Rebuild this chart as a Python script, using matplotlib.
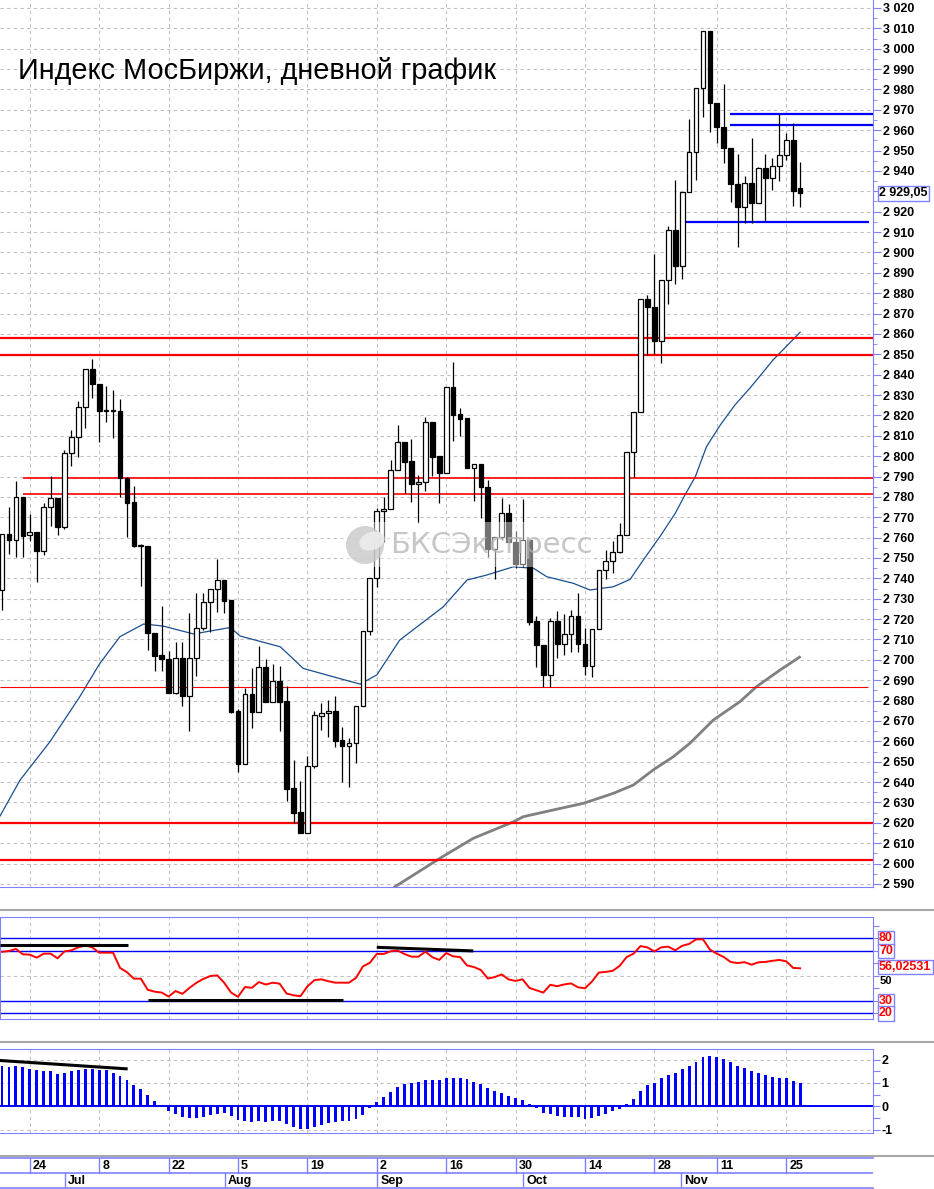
import numpy as np
import matplotlib.pyplot as plt
from matplotlib.patches import Rectangle, Circle, Ellipse
from matplotlib.lines import Line2D
from matplotlib.ticker import MultipleLocator, FuncFormatter
from matplotlib.transforms import blended_transform_factory

plt.rcParams['font.family'] = ['Liberation Sans', 'DejaVu Sans']

W, H = 934, 1189
axis_blue = '#8080ff'
grid_gray = '#c0c0c0'
lab_size = 9
lab_weight = 'bold'

# daily candles, 18 Jun .. 27 Nov
opens = [2734.3, 2761.6, 2758.7, 2779.8, 2761.3, 2762.6, 2753.6, 2774.9, 2779.3, 2765.4,
         2801.4, 2809.5, 2824.0, 2842.6, 2835.2, 2822.3, 2822.3, 2822.3, 2789.3, 2777.3,
         2756.0, 2756.0, 2713.3, 2702.4, 2700.4, 2683.9, 2700.9, 2682.4, 2700.7, 2715.5,
         2728.2, 2734.6, 2739.2, 2729.4, 2674.9, 2648.7, 2683.1, 2674.6, 2696.3, 2679.5,
         2689.6, 2679.8, 2637.0, 2625.3, 2614.9, 2647.9, 2672.6, 2673.8, 2674.9, 2660.7,
         2657.9, 2659.0, 2677.4, 2714.1, 2740.0, 2772.9, 2773.9, 2793.2, 2806.8, 2797.6,
         2786.1, 2787.1, 2816.6, 2800.0, 2791.5, 2834.1, 2820.7, 2818.5, 2794.3, 2796.0,
         2785.0, 2754.2, 2760.1, 2772.2, 2758.0, 2747.0, 2758.8, 2719.1, 2707.3, 2692.5,
         2719.1, 2707.6, 2712.5, 2721.5, 2707.8, 2697.1, 2715.0, 2744.1, 2748.7, 2752.8,
         2761.1, 2801.9, 2821.5, 2877.0, 2873.1, 2856.7, 2886.4, 2911.0, 2893.5, 2929.8,
         2949.1, 2980.5, 3008.7, 2973.2, 2961.7, 2951.2, 2933.4, 2922.1, 2934.2, 2924.1,
         2941.3, 2936.3, 2942.4, 2947.8, 2955.2, 2931.4]
highs = [2761.6, 2775.2, 2787.8, 2780.0, 2771.6, 2763.0, 2777.1, 2790.2, 2779.3, 2803.0,
         2812.8, 2827.0, 2842.6, 2847.7, 2835.2, 2834.4, 2832.5, 2828.0, 2789.6, 2785.5,
         2756.7, 2756.0, 2713.3, 2726.4, 2704.4, 2708.6, 2708.6, 2723.2, 2732.6, 2732.6,
         2734.6, 2749.5, 2739.2, 2729.4, 2675.9, 2686.4, 2695.9, 2706.8, 2700.3, 2698.0,
         2697.2, 2687.2, 2650.9, 2640.5, 2652.8, 2675.0, 2678.7, 2680.3, 2682.3, 2667.2,
         2661.8, 2677.4, 2714.1, 2740.0, 2774.4, 2780.1, 2798.1, 2815.3, 2806.8, 2808.2,
         2790.7, 2819.4, 2816.6, 2800.0, 2834.1, 2846.0, 2823.5, 2818.5, 2796.0, 2796.0,
         2788.3, 2760.5, 2779.4, 2776.5, 2763.4, 2778.8, 2758.8, 2721.5, 2707.3, 2720.4,
         2724.1, 2722.3, 2724.5, 2733.0, 2715.5, 2715.0, 2744.1, 2753.9, 2758.3, 2767.3,
         2801.9, 2821.5, 2877.0, 2879.1, 2899.0, 2886.4, 2913.0, 2935.5, 2929.8, 2965.3,
         2980.5, 3008.7, 3008.7, 2973.2, 2982.7, 2951.2, 2948.3, 2937.5, 2956.0, 2941.8,
         2948.3, 2946.2, 2967.8, 2958.8, 2963.4, 2944.5]
lows = [2724.5, 2751.8, 2750.5, 2750.5, 2758.5, 2738.4, 2751.5, 2765.9, 2761.4, 2764.0,
        2795.1, 2799.7, 2814.0, 2828.4, 2807.1, 2816.9, 2809.0, 2779.8, 2760.5, 2755.5,
        2736.4, 2704.8, 2694.7, 2694.7, 2683.6, 2683.2, 2677.4, 2665.3, 2692.0, 2714.6,
        2713.8, 2723.6, 2722.8, 2674.0, 2645.0, 2648.7, 2666.7, 2674.6, 2679.5, 2679.5,
        2665.3, 2630.9, 2620.1, 2614.9, 2614.9, 2647.0, 2665.6, 2662.3, 2657.1, 2640.2,
        2637.4, 2649.5, 2677.4, 2712.0, 2735.6, 2758.0, 2773.9, 2793.2, 2781.7, 2777.6,
        2767.3, 2783.0, 2790.2, 2777.1, 2791.5, 2807.6, 2809.9, 2794.3, 2778.1, 2769.8,
        2750.3, 2739.5, 2758.8, 2758.0, 2744.9, 2745.7, 2717.1, 2696.6, 2686.8, 2686.8,
        2700.7, 2702.4, 2704.0, 2704.0, 2692.5, 2691.4, 2715.0, 2739.5, 2742.5, 2752.3,
        2761.1, 2790.0, 2821.5, 2849.7, 2850.2, 2845.6, 2874.6, 2884.3, 2886.8, 2929.8,
        2935.5, 2966.3, 2958.9, 2953.5, 2944.0, 2924.6, 2902.8, 2914.6, 2914.3, 2924.1,
        2915.6, 2930.6, 2935.2, 2945.4, 2922.9, 2922.4]
closes = [2761.6, 2758.7, 2779.8, 2761.0, 2762.6, 2753.6, 2774.9, 2779.3, 2765.4, 2801.4,
          2809.5, 2824.0, 2842.6, 2835.2, 2822.3, 2822.3, 2822.3, 2789.3, 2777.1, 2756.0,
          2756.0, 2713.0, 2702.0, 2700.2, 2683.9, 2700.8, 2682.4, 2700.9, 2715.5, 2728.2,
          2734.6, 2739.2, 2729.0, 2674.6, 2648.7, 2683.1, 2674.6, 2696.3, 2679.5, 2689.6,
          2679.5, 2636.8, 2625.0, 2614.9, 2647.9, 2673.0, 2673.8, 2674.9, 2660.3, 2657.7,
          2659.0, 2677.4, 2714.1, 2740.0, 2773.0, 2774.0, 2793.2, 2806.8, 2797.3, 2786.1,
          2787.1, 2816.6, 2799.7, 2791.5, 2834.1, 2820.2, 2818.4, 2794.3, 2796.0, 2785.0,
          2754.2, 2760.1, 2772.2, 2758.0, 2747.0, 2758.8, 2718.7, 2707.1, 2692.5, 2719.1,
          2707.6, 2712.5, 2721.5, 2707.6, 2697.1, 2715.0, 2744.1, 2748.7, 2752.8, 2761.1,
          2801.9, 2821.5, 2877.0, 2873.1, 2856.7, 2886.4, 2911.0, 2893.5, 2929.8, 2949.1,
          2980.5, 3008.7, 2973.2, 2961.4, 2951.1, 2933.4, 2922.1, 2934.2, 2924.1, 2941.3,
          2936.3, 2942.4, 2947.8, 2955.2, 2930.3, 2929.05]

# moving averages (bar index, price)
ma_blue_x = [-0.3, 2.6, 6.9, 11.2, 14.1, 17.0, 20.4, 23.2, 27.6, 32.9, 34.3, 40.1, 43.4, 47.7,
             51.6, 54.0, 57.3, 63.6, 67.0, 69.8, 73.7, 76.6, 78.5, 82.3, 84.7, 88.1, 90.5,
             92.4, 94.8, 97.0, 98.4, 99.9, 101.5, 103.5, 105.6, 107.8, 111.1, 115.0]
ma_blue_y = [2623.3, 2641.0, 2659.8, 2681.9, 2698.3, 2711.4, 2717.6, 2716.6, 2712.7, 2715.9,
             2711.7, 2706.4, 2695.8, 2691.7, 2688.1, 2692.6, 2709.7, 2726.1, 2739.2, 2741.6,
             2745.7, 2744.9, 2740.8, 2737.6, 2734.3, 2735.9, 2739.5, 2749.0, 2760.5, 2771.9,
             2780.9, 2789.9, 2804.6, 2815.3, 2825.1, 2833.5, 2847.2, 2860.8]
ma_gray_x = [56.6, 63.1, 67.9, 73.7, 75.1, 79.4, 83.8, 88.1, 91.0, 93.8, 96.7, 99.1, 102.5,
             106.3, 108.7, 112.1, 114.9]
ma_gray_y = [2588.6, 2602.6, 2612.4, 2620.5, 2623.0, 2626.3, 2629.6, 2634.5, 2638.6, 2645.9,
             2652.4, 2659.0, 2670.5, 2679.4, 2686.8, 2695.0, 2701.3]

# horizontal levels
red_levels = [2858.0, 2849.7, 2789.3, 2781.2, 2686.5, 2620.0, 2601.7]
red_start = [-0.3, -0.3, 3.0, 3.0, -0.3, -0.3, -0.3]
red_end = [125.5, 125.5, 125.5, 125.5, 124.8, 125.5, 125.5]
red_width = [1.6, 1.6, 1.2, 1.2, 0.8, 1.6, 1.6]
blue_levels = [2968.1, 2962.7, 2915.1]
blue_start = [104.9, 104.9, 97.8]
blue_end = [125.5, 125.5, 124.9]

rsi = [69.2, 69.8, 71.5, 67.2, 66.9, 64.5, 67.7, 67.7, 64.0, 69.5,
       70.4, 72.8, 74.3, 72.7, 68.5, 68.5, 68.5, 56.3, 52.9, 47.7,
       47.7, 38.8, 37.3, 36.6, 33.4, 37.8, 35.6, 40.3, 44.4, 47.5,
       49.8, 50.4, 44.5, 36.6, 33.2, 41.0, 40.4, 45.0, 43.0, 44.5,
       43.7, 35.8, 34.4, 33.7, 41.5, 46.5, 47.2, 45.7, 44.5, 44.5,
       44.5, 48.3, 57.5, 60.4, 67.5, 67.5, 69.6, 70.2, 67.4, 65.3,
       65.3, 69.3, 64.9, 62.7, 68.2, 65.6, 65.0, 58.3, 57.0, 54.6,
       47.8, 49.0, 51.1, 47.1, 45.9, 47.2, 40.3, 38.4, 36.6, 42.8,
       41.7, 43.1, 43.9, 40.8, 40.0, 45.4, 52.6, 53.1, 54.0, 58.0,
       65.0, 67.7, 73.8, 72.7, 69.5, 72.8, 73.3, 70.4, 74.0, 75.5,
       79.1, 79.2, 71.0, 67.7, 65.0, 61.0, 60.2, 60.9, 58.9, 60.8,
       61.1, 62.0, 62.7, 61.6, 56.3, 56.0]

macd = [1.74, 1.70, 1.74, 1.70, 1.61, 1.54, 1.53, 1.49, 1.40, 1.44,
        1.50, 1.54, 1.59, 1.61, 1.57, 1.54, 1.44, 1.31, 1.14, 0.93,
        0.76, 0.50, 0.23, 0.04, -0.19, -0.33, -0.46, -0.50, -0.50, -0.46,
        -0.39, -0.33, -0.29, -0.41, -0.59, -0.63, -0.67, -0.63, -0.67, -0.63,
        -0.63, -0.76, -0.87, -0.97, -0.97, -0.87, -0.80, -0.71, -0.67, -0.63,
        -0.64, -0.54, -0.37, -0.09, 0.19, 0.41, 0.61, 0.84, 0.96, 1.01,
        1.06, 1.14, 1.14, 1.14, 1.23, 1.23, 1.23, 1.16,
        1.06, 0.96, 0.80, 0.67, 0.57, 0.46, 0.37, 0.27, 0.11, -0.09,
        -0.27, -0.33, -0.40, -0.46, -0.46, -0.46, -0.54, -0.50, -0.40, -0.33,
        -0.20, -0.11, 0.10, 0.33, 0.67, 0.89, 1.01, 1.19, 1.36, 1.44,
        1.61, 1.74, 1.91, 2.13, 2.17, 2.13, 2.04, 1.91, 1.74, 1.66,
        1.53, 1.44, 1.36, 1.27, 1.23, 1.19, 1.10, 1.01]

day_idx = [4, 14, 24, 34, 44, 54, 64, 74, 84, 94, 103, 113]
day_labels = ['24', '8', '22', '5', '19', '2', '16', '30', '14', '28', '11', '25']
month_idx = [9.1, 32.1, 54.1, 75.1, 97.8]
month_labels = ['Jul', 'Aug', 'Sep', 'Oct', 'Nov']

last_price = 2929.05
rsi_last = 56.02531

x_lim = (-0.294, 125.5)


def fig_rect(x0, y0, x1, y1):
    return [x0 / W, 1 - y1 / H, (x1 - x0) / W, (y1 - y0) / H]


def vgrid(a):
    for d in day_idx:
        a.axvline(d, color=grid_gray, lw=0.8, ls=(0, (3, 3)), zorder=0)


def price_fmt(v, p):
    # the price tag covers the 2 930 label in the original
    if abs(v - 2930) < 1:
        return ''
    return f"{int(round(v)):,}".replace(',', ' ')


fig = plt.figure(figsize=(W / 100, H / 100), dpi=100)
fig.patch.set_facecolor('white')

# ---------------- price panel ----------------
ax = fig.add_axes(fig_rect(0, 0, 873, 887))
ax.set_xlim(*x_lim)
ax.set_ylim(2588.5, 3023.9)
for s in ['top', 'left']:
    ax.spines[s].set_visible(False)
for s in ['right', 'bottom']:
    ax.spines[s].set_color(axis_blue)
ax.set_xticks([])
ax.yaxis.tick_right()
ax.yaxis.set_major_locator(MultipleLocator(10))
ax.yaxis.set_minor_locator(MultipleLocator(5))
ax.yaxis.set_major_formatter(FuncFormatter(price_fmt))
ax.tick_params(axis='y', which='major', length=6, color=axis_blue, labelsize=lab_size, pad=1)
ax.tick_params(axis='y', which='minor', length=3, color=axis_blue)
for t in ax.get_yticklabels():
    t.set_fontweight(lab_weight)
for v in np.arange(2590, 3030, 10):
    ax.axhline(v, color=grid_gray, lw=0.8, ls=(0, (3, 3)), zorder=0)
vgrid(ax)

ax.plot(ma_gray_x, ma_gray_y, color='#808080', lw=2.0, zorder=2)
ax.plot(ma_blue_x, ma_blue_y, color='#1a4f8f', lw=0.9, zorder=2)

for lvl, x0, x1, lw in zip(red_levels, red_start, red_end, red_width):
    ax.plot([x0, x1], [lvl, lvl], color='#ff0000', lw=lw, zorder=2, solid_capstyle='butt')
for lvl, x0, x1 in zip(blue_levels, blue_start, blue_end):
    ax.plot([x0, x1], [lvl, lvl], color='#0000ff', lw=1.6, zorder=2, solid_capstyle='butt')

for i, (o, h, l, c) in enumerate(zip(opens, highs, lows, closes)):
    ax.plot([i, i], [l, h], color='black', lw=0.9, zorder=3, solid_capstyle='butt')
    body_lo = min(o, c)
    body_h = max(abs(c - o), 0.4)
    face = 'white' if c >= o else 'black'
    ax.add_patch(Rectangle((i - 0.34, body_lo), 0.68, body_h, facecolor=face,
                           edgecolor='black', lw=0.9, zorder=4))

ytr = blended_transform_factory(ax.transAxes, ax.transData)
ax.text(1.007, last_price, "2 929,05", transform=ytr, fontsize=lab_size, fontweight=lab_weight,
        va='center', ha='left', clip_on=False, zorder=10,
        bbox=dict(boxstyle='square,pad=0.12', fc='white', ec=axis_blue, lw=1))

fig.text(18 / W, 1 - 79 / H, 'Индекс МосБиржи, дневной график', fontsize=20.8,
         ha='left', va='baseline', color='black')

# watermark
fig.add_artist(Rectangle((342 / W, 1 - 567 / H), 250 / W, 45 / H, transform=fig.transFigure,
                         facecolor='white', alpha=0.45, edgecolor='none', zorder=5))
fig.add_artist(Circle((365 / 100, (H - 545) / 100), 0.19, transform=fig.dpi_scale_trans,
                      facecolor='#c8c8c8', edgecolor='none', alpha=0.8, zorder=6))
fig.add_artist(Ellipse((372 / 100, (H - 541) / 100), 0.26, 0.18, angle=20,
                       transform=fig.dpi_scale_trans, facecolor='#ececec', edgecolor='none',
                       alpha=0.9, zorder=6))
fig.text(390 / W, 1 - 545 / H, 'БКСЭкспресс', fontsize=21, color='#b4b4b4', alpha=0.75,
         ha='left', va='center', zorder=7, family=['DejaVu Sans'])

# ---------------- RSI panel ----------------
ra = fig.add_axes(fig_rect(0, 917.3, 873, 1019.3))
ra.set_xlim(*x_lim)
ra.set_ylim(15.2, 96.8)
for s in ra.spines.values():
    s.set_color(axis_blue)
ra.set_xticks([])
ra.yaxis.tick_right()
ra.set_yticks(np.arange(20, 100, 10))
ra.set_yticklabels([])
ra.tick_params(axis='y', length=4, color=axis_blue)
vgrid(ra)
ra.axhline(50, color=grid_gray, lw=0.8, ls=(0, (3, 3)), zorder=0)
for lvl in [80, 70, 30, 20]:
    ra.axhline(lvl, color='#0000ff', lw=1.0, zorder=1)
ra.plot(np.arange(len(rsi)), rsi, color='#ff0000', lw=1.4, zorder=3)
ra.plot([-0.3, 18.1], [74.9, 74.9], color='black', lw=2.2, zorder=4, solid_capstyle='butt')
ra.plot([21.1, 49.1], [30.7, 30.7], color='black', lw=2.2, zorder=4, solid_capstyle='butt')
ra.plot([54.0, 67.9], [72.8, 69.9], color='black', lw=2.2, zorder=4, solid_capstyle='butt')

rtr = blended_transform_factory(ra.transAxes, ra.transData)
ra.text(1.007, 46.2, '50', transform=rtr, fontsize=lab_size - 1, fontweight=lab_weight,
        va='center', color='black', clip_on=False)
for lvl in [80, 70, 30, 20]:
    ra.text(1.007, lvl, str(lvl), transform=rtr, fontsize=lab_size, fontweight=lab_weight,
            va='center', color='#ff0000', clip_on=False,
            bbox=dict(boxstyle='square,pad=0.1', fc='white', ec=axis_blue, lw=1))
ra.text(1.007, rsi_last + 1.0, '56,02531', transform=rtr, fontsize=lab_size, fontweight=lab_weight,
        va='center', color='#ff0000', clip_on=False, zorder=10,
        bbox=dict(boxstyle='square,pad=0.1', fc='white', ec=axis_blue, lw=1))

# ---------------- MACD panel ----------------
ma = fig.add_axes(fig_rect(0, 1049.3, 873, 1133.3))
ma.set_xlim(*x_lim)
ma.set_ylim(-1.16, 2.44)
for s in ma.spines.values():
    s.set_color(axis_blue)
ma.spines['left'].set_visible(False)
ma.set_xticks([])
ma.yaxis.tick_right()
ma.set_yticks(np.arange(-1, 2.5, 0.5))
ma.yaxis.set_major_formatter(FuncFormatter(lambda v, p: f"{int(round(v))}" if abs(v - round(v)) < 1e-6 else ''))
ma.tick_params(axis='y', length=5, color=axis_blue, labelsize=lab_size, pad=1)
for t in ma.get_yticklabels():
    t.set_fontweight(lab_weight)
vgrid(ma)
for lvl in [2, 1, -1]:
    ma.axhline(lvl, color=grid_gray, lw=0.8, ls=(0, (3, 3)), zorder=0)
ma.axhline(0, color='#0000ff', lw=1.4, zorder=2)
ma.bar(np.arange(len(macd)), macd, width=0.42, color='#0000ff', zorder=3)
ma.plot([-0.3, 18.1], [1.96, 1.60], color='black', lw=2.2, zorder=4, solid_capstyle='butt')

# ---------------- date axis ----------------
da = fig.add_axes(fig_rect(0, 1158.3, 873, 1188.3))
da.set_xlim(*x_lim)
da.set_ylim(0, 2)
da.set_xticks([])
da.set_yticks([])
for s in ['left', 'right']:
    da.spines[s].set_visible(False)
for s in ['top', 'bottom']:
    da.spines[s].set_color(axis_blue)
    da.spines[s].set_linewidth(1.2)
da.axhline(1, color=axis_blue, lw=1.2)
for d, lab in zip(day_idx, day_labels):
    da.plot([d, d], [1, 2], color=axis_blue, lw=1)
    da.text(d + 0.45, 1.5, lab, fontsize=lab_size, fontweight=lab_weight, va='center', ha='left')
for m, lab in zip(month_idx, month_labels):
    da.plot([m, m], [0, 1], color=axis_blue, lw=1)
    da.text(m + 0.45, 0.48, lab, fontsize=lab_size, fontweight=lab_weight, va='center', ha='left')

# pane separators
for yy in [910, 1042, 1156]:
    fig.add_artist(Line2D([0, 1], [1 - yy / H] * 2, transform=fig.transFigure,
                          color='#a8a8a8', lw=1.5))

fig.savefig('out.png', dpi=100, facecolor='white')
